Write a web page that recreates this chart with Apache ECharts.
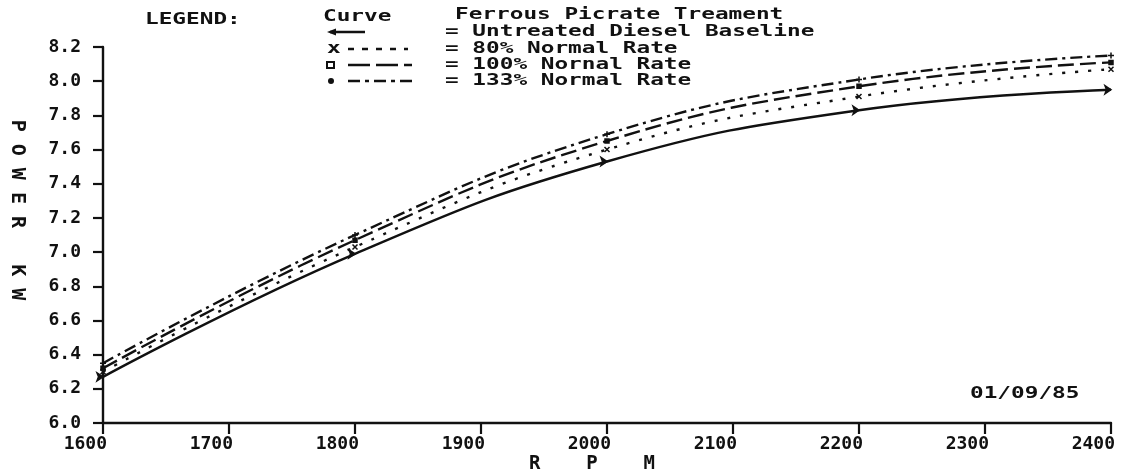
<!DOCTYPE html>
<html>
<head>
<meta charset="utf-8">
<script src="https://cdn.jsdelivr.net/npm/echarts@6/dist/echarts.min.js"></script>
<style>
  html, body { margin: 0; padding: 0; background: #fff; }
  #chart { width: 1121px; height: 472px; }
</style>
</head>
<body>
<div id="chart"></div>
<script>
// values (kW at each rpm)
var rpm = [1600, 1800, 2000, 2200, 2400];
var baseline = [6.27, 6.99, 7.53, 7.83, 7.95];
var rate80 = [6.30, 7.03, 7.60, 7.91, 8.07];
var rate100 = [6.32, 7.07, 7.65, 7.97, 8.11];
var rate133 = [6.35, 7.10, 7.69, 8.01, 8.15];

var seriesNames = ['Untreated Diesel Baseline', '80% Normal Rate', '100% Nornal Rate', '133% Normal Rate'];

var ink = '#111';
var mono = 'DejaVu Sans Mono';

var dom = document.getElementById('chart');
var chart = echarts.init(dom, null, { renderer: 'canvas' });

function pairs(ys) {
  return rpm.map(function (x, i) { return [x, ys[i]]; });
}

var xPath = 'path://M0,0L10,10M10,0L0,10';
var plusPath = 'path://M5,0L5,10M0,5L10,5';

function curve(name, ys, dash, symbol, size) {
  return {
    name: name,
    type: 'line',
    data: pairs(ys),
    smooth: 0.45,
    symbol: symbol,
    symbolSize: size,
    showAllSymbol: true,
    lineStyle: { color: ink, width: 2.4, type: dash },
    itemStyle: { color: ink, borderColor: ink, borderWidth: 1.5 },
    animation: false
  };
}

// legend drawn like the plotter: sample, then "= text"
function legendText(txt, x, y) {
  return {
    type: 'text', x: x, y: y, scaleX: 1.42, scaleY: 0.95,
    style: { text: txt, font: 'bold 16px "' + mono + '"', fill: ink, textVerticalAlign: 'middle' }
  };
}
function legendLine(x1, x2, y, dash) {
  return {
    type: 'line', shape: { x1: x1, y1: y, x2: x2, y2: y },
    style: { stroke: ink, lineWidth: 2.4, lineDash: dash }
  };
}

var rowsY = [32, 49, 65, 81];
var graphics = [
  legendText('LEGEND:', 145, 20),
  legendText('Curve', 323, 17),
  legendText('Ferrous Picrate Treament', 455, 15),
  legendText('01/09/85', 970, 394),
  legendLine(330, 365, rowsY[0], null),
  { type: 'polygon', shape: { points: [[327, rowsY[0]], [336, rowsY[0] - 3.5], [336, rowsY[0] + 3.5]] }, style: { fill: ink } },
  legendText('x', 327, rowsY[1]),
  legendLine(348, 408, rowsY[1], [6, 8]),
  { type: 'rect', shape: { x: 327, y: rowsY[2] - 3, width: 7, height: 6 }, style: { fill: '#fff', stroke: ink, lineWidth: 2 } },
  legendLine(348, 412, rowsY[2], [22, 6]),
  { type: 'circle', shape: { cx: 331, cy: rowsY[3], r: 3 }, style: { fill: ink } },
  legendLine(348, 412, rowsY[3], [12, 5, 4, 5])
];
seriesNames.forEach(function (n, i) {
  graphics.push(legendText('= ' + n, 445, rowsY[i]));
});

var option = {
  backgroundColor: '#fff',
  animation: false,
  grid: { left: 103, right: 10, top: 47, bottom: 49, containLabel: false, outerBoundsMode: 'none' },
  xAxis: {
    type: 'value',
    min: 1600,
    max: 2400,
    interval: 100,
    name: 'R    P    M',
    nameLocation: 'middle',
    nameGap: 32,
    nameMoveOverlap: false,
    nameTextStyle: { fontFamily: mono, fontWeight: 'bold', fontSize: 19, color: ink, padding: [0, 30, 0, 0] },
    axisLine: { lineStyle: { color: ink, width: 2.4 } },
    axisTick: { length: 11, lineStyle: { color: ink, width: 2.2 } },
    axisLabel: {
      fontFamily: mono, fontWeight: 'bold', fontSize: 18, color: ink, margin: 12,
      align: 'right', padding: [0, -4, 0, 0],
      formatter: function (v) { return String(v); }
    },
    splitLine: { show: false }
  },
  yAxis: {
    type: 'value',
    min: 6.0,
    max: 8.2,
    interval: 0.2,
    name: 'P O W E R   K W',
    nameLocation: 'middle',
    nameRotate: -90,
    nameGap: 76,
    nameMoveOverlap: false,
    nameTextStyle: { fontFamily: mono, fontWeight: 'bold', fontSize: 20, color: ink, padding: [0, 50, 0, 0] },
    axisLine: { show: true, lineStyle: { color: ink, width: 2.4 } },
    axisTick: { length: 10, lineStyle: { color: ink, width: 2.2 } },
    axisLabel: {
      fontFamily: mono, fontWeight: 'bold', fontSize: 18, color: ink, margin: 22,
      formatter: function (v) { return v.toFixed(1); }
    },
    splitLine: { show: false }
  },
  graphic: graphics,
  series: [
    curve(seriesNames[0], baseline, 'solid', 'arrow', 6),
    curve(seriesNames[1], rate80, [3, 10], xPath, 5),
    curve(seriesNames[2], rate100, [16, 6], 'rect', 4),
    curve(seriesNames[3], rate133, [12, 5, 3, 5], plusPath, 6)
  ]
};

option.series[0].symbolRotate = -90;

if (option && typeof option === 'object') {
  chart.setOption(option);
}

window.addEventListener('resize', chart.resize);
</script>
</body>
</html>
